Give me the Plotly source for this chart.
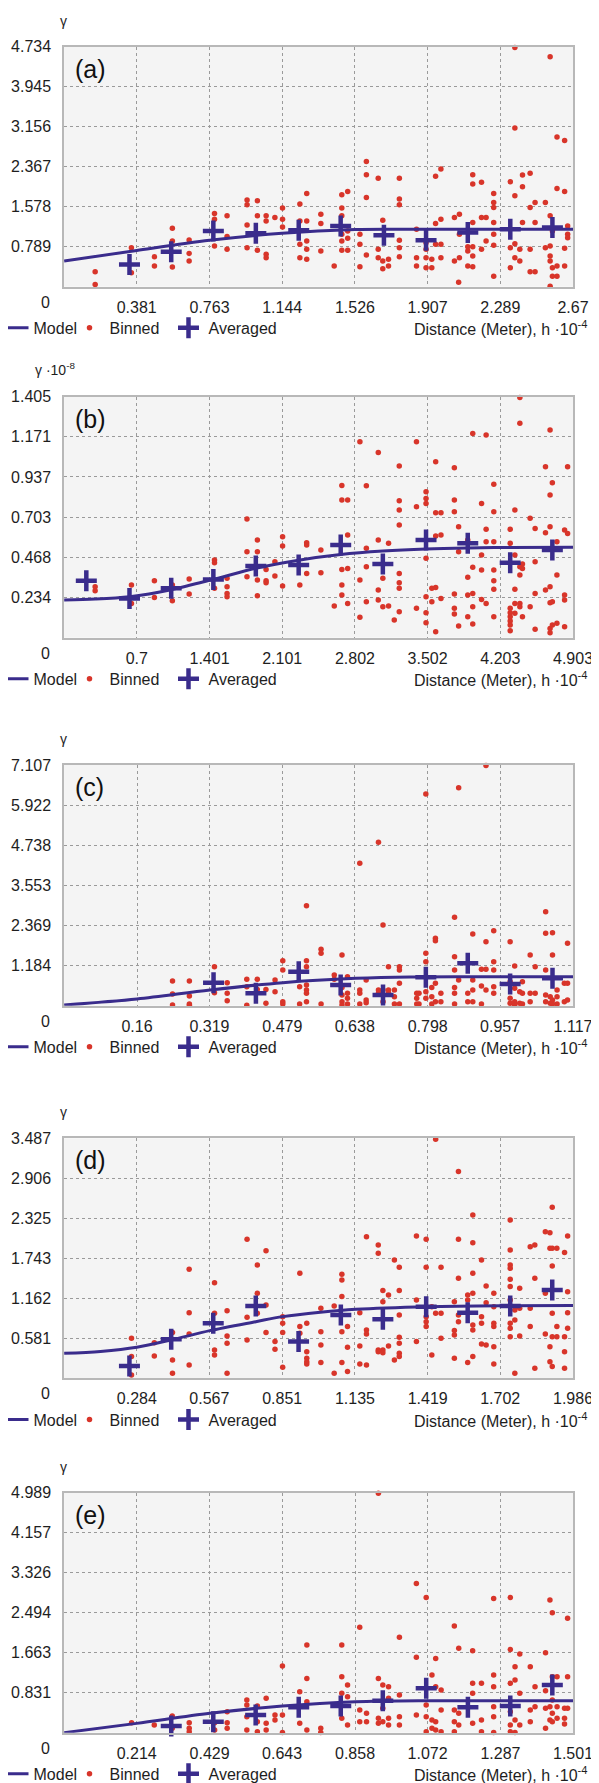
import plotly.graph_objects as go

# ------------------------------------------------------------------ data
# Panel (a)
a_xticks = [0.381, 0.763, 1.144, 1.526, 1.907, 2.289, 2.67]
a_yticks = [0.789, 1.578, 2.367, 3.156, 3.945, 4.734]
a_model_x = [0, 0.381, 0.763, 1.144, 1.526, 1.75, 2.2, 2.67]
a_model_y = [0.505, 0.716, 0.915, 1.054, 1.126, 1.132, 1.132, 1.132]
a_avg_x = [0.343, 0.562, 0.783, 1.006, 1.231, 1.451, 1.678, 1.899, 2.118, 2.341, 2.562]
a_avg_y = [0.439, 0.691, 1.100, 1.054, 1.113, 1.199, 1.014, 0.915, 1.067, 1.133, 1.166]
a_bin_cols = [0.163, 0.353, 0.474, 0.568, 0.656, 0.789, 0.855, 0.960, 1.014, 1.060, 1.106, 1.146,
              1.237, 1.273, 1.347, 1.417, 1.457, 1.488, 1.552, 1.586, 1.648, 1.672, 1.702, 1.759,
              1.849, 1.899, 1.929, 1.949, 1.977, 2.048, 2.070, 2.074, 2.118, 2.144, 2.190, 2.214,
              2.254, 2.341, 2.365, 2.391, 2.405, 2.445, 2.471, 2.525, 2.550, 2.562, 2.586, 2.626, 2.642]
a_bin_vals = [[0.294, 0.043], [0.770, 0.274], [0.591, 0.406], [1.153, 0.902, 0.387],
              [0.922, 0.657, 0.506], [1.444, 1.332, 0.803], [1.398, 0.988, 0.737],
              [1.708, 1.616, 1.219, 0.770], [1.695, 1.398, 0.717], [1.398, 1.298, 0.638, 0.572],
              [1.365], [1.550, 1.332, 1.180], [1.629, 1.298, 0.836, 0.572],
              [1.840, 1.298, 0.902, 0.737, 0.539], [1.431, 1.246, 0.704], [0.406],
              [1.814, 1.550, 1.398, 1.034, 0.902, 0.717], [1.880, 1.100, 0.955, 0.717],
              [1.034, 0.836, 0.393], [2.468, 2.210, 1.761, 0.624], [2.138, 0.737, 0.572],
              [1.312, 0.506, 0.354], [0.539, 0.406], [2.138, 1.728, 1.616, 0.915, 0.770, 0.591],
              [1.133, 0.572, 0.406], [0.869, 0.737, 0.572, 0.373], [0.539, 0.373],
              [2.177, 1.246, 0.836], [2.323, 1.332, 0.836, 0.572], [1.365, 0.506], [0.089],
              [1.431, 1.034, 0.572], [0.790, 0.704, 0.406], [2.210, 2.025, 1.265, 0.790, 0.605, 0.393],
              [2.058, 1.365, 0.737], [1.365, 0.902], [1.840, 1.662, 1.563, 1.265, 1.034, 0.816, 0.208],
              [2.072, 0.770, 0.373], [4.720, 3.129, 1.794, 0.849, 0.572], [0.737, 0.506],
              [2.204, 1.972, 1.265], [2.237, 1.563, 0.737, 0.294], [1.662, 1.265, 0.294],
              [1.662, 0.770], [4.536, 1.398, 0.803, 0.605, 0.506, 0.010], [1.100, 0.373, 0.208],
              [2.951, 1.939, 0.406, 0.208], [2.884, 1.880, 0.757, 0.406], [1.199, 1.034, 0.968]]

# Panel (b)  (values x 10^-8)
b_xticks = [0.7, 1.401, 2.101, 2.802, 3.502, 4.203, 4.903]
b_yticks = [0.234, 0.468, 0.703, 0.937, 1.171, 1.405]
b_model_x = [0, 0.300, 0.630, 1.032, 1.438, 1.847, 2.260, 2.665, 3.071, 3.487, 3.889, 4.298, 4.903]
b_model_y = [0.220, 0.225, 0.239, 0.280, 0.340, 0.405, 0.452, 0.485, 0.505, 0.517, 0.523, 0.526, 0.527]
b_avg_x = [0.214, 0.630, 1.032, 1.438, 1.847, 2.260, 2.665, 3.071, 3.487, 3.889, 4.298, 4.704]
b_avg_y = [0.332, 0.229, 0.288, 0.340, 0.418, 0.424, 0.540, 0.429, 0.569, 0.550, 0.437, 0.511]
b_bin_cols = [0.299, 0.649, 0.870, 1.043, 1.205, 1.449, 1.570, 1.762, 1.862, 1.946, 2.031, 2.105,
              2.271, 2.337, 2.474, 2.603, 2.676, 2.732, 2.850, 2.912, 3.027, 3.071, 3.126, 3.181,
              3.229, 3.395, 3.487, 3.543, 3.580, 3.631, 3.760, 3.801, 3.889, 3.937, 4.022, 4.066,
              4.140, 4.298, 4.343, 4.391, 4.416, 4.490, 4.538, 4.638, 4.682, 4.704, 4.748, 4.822, 4.851]
b_bin_vals = [[0.297, 0.274], [0.307, 0.200], [0.332, 0.235], [0.307, 0.216], [0.342, 0.255],
              [0.453, 0.437, 0.288], [0.346, 0.297, 0.258, 0.239], [0.692, 0.501, 0.356],
              [0.569, 0.501, 0.336, 0.245], [0.398, 0.332, 0.321], [0.443, 0.360],
              [0.589, 0.534, 0.301], [0.307], [0.554, 0.540, 0.375], [0.511, 0.379], [0.185],
              [0.888, 0.803, 0.398, 0.307, 0.249], [0.803, 0.599, 0.404, 0.200], [1.143, 0.336, 0.119],
              [0.886, 0.521, 0.414, 0.210], [1.080, 0.569, 0.278, 0.220], [0.346, 0.181],
              [0.550, 0.185], [0.103], [1.001, 0.799, 0.744, 0.657, 0.375, 0.321, 0.288, 0.152],
              [1.143, 0.764, 0.171], [0.851, 0.812, 0.783, 0.463, 0.239, 0.146, 0.087],
              [0.288, 0.210], [1.026, 0.729, 0.593, 0.293, 0.035], [0.729, 0.599, 0.229],
              [0.991, 0.803, 0.735, 0.255, 0.171, 0.138], [0.647, 0.501, 0.068],
              [0.569, 0.352, 0.249, 0.122], [1.191, 0.410, 0.258, 0.181, 0.080],
              [0.783, 0.482, 0.394, 0.223], [1.182, 0.632, 0.560, 0.200],
              [0.894, 0.735, 0.560, 0.394, 0.332, 0.282, 0.122],
              [0.632, 0.550, 0.171, 0.146, 0.122, 0.097, 0.074, 0.041],
              [0.744, 0.482, 0.282, 0.200, 0.142], [1.400, 1.250, 0.414, 0.365, 0.200, 0.181],
              [0.429, 0.404, 0.122], [0.696, 0.181], [0.637, 0.443, 0.258, 0.049],
              [0.997, 0.612, 0.278], [1.211, 0.832, 0.647, 0.297, 0.204, 0.054, 0.029],
              [0.904, 0.210, 0.074], [0.560, 0.365, 0.084], [0.628, 0.249, 0.220, 0.064],
              [0.997, 0.608]]

# Panel (c)
c_xticks = [0.16, 0.319, 0.479, 0.638, 0.798, 0.957, 1.117]
c_yticks = [1.184, 2.369, 3.553, 4.738, 5.922, 7.107]
c_model_x = [0, 0.160, 0.320, 0.480, 0.640, 0.760, 0.900, 1.117]
c_model_y = [0.02, 0.197, 0.463, 0.679, 0.807, 0.850, 0.856, 0.856]
c_avg_x = [0.328, 0.421, 0.515, 0.607, 0.700, 0.794, 0.886, 0.979, 1.072]
c_avg_y = [0.679, 0.364, 1.004, 0.610, 0.315, 0.837, 1.250, 0.640, 0.807]
c_bin_cols = [0.238, 0.275, 0.330, 0.358, 0.401, 0.424, 0.443, 0.463, 0.480, 0.517, 0.532, 0.564,
              0.593, 0.610, 0.622, 0.649, 0.663, 0.690, 0.700, 0.712, 0.725, 0.736, 0.774, 0.779,
              0.794, 0.807, 0.815, 0.827, 0.857, 0.866, 0.886, 0.897, 0.916, 0.926, 0.943, 0.979,
              0.989, 1.000, 1.006, 1.023, 1.034, 1.057, 1.067, 1.072, 1.082, 1.098, 1.105]
c_bin_vals = [[0.728, 0.345, 0.020], [0.728, 0.285, 0.049, 0.010], [1.152, 0.384],
              [0.679, 0.364, 0.148], [0.778, 0.561, 0.010], [0.778, 0.482], [0.482, 0.069],
              [0.758, 0.413], [1.329, 1.053, 0.118, 0.049], [0.561, 0.049],
              [2.953, 1.329, 1.152, 0.610, 0.463, 0.364, 0.118], [1.664, 1.545, 0.049],
              [0.906, 0.778], [1.496, 0.541, 0.315, 0.118, 0.020], [0.856, 0.364, 0.217, 0.049],
              [4.203, 0.463, 0.364, 0.049], [0.758, 0.167, 0.089], [4.823, 0.463, 0.364],
              [2.382, 0.463, 0.118], [1.152, 0.463, 0.364], [0.463, 0.266, 0.049],
              [1.152, 1.053, 0.660, 0.049], [0.364, 0.217, 0.049], [0.364, 0.049],
              [6.251, 1.545, 1.299, 0.413, 0.217], [0.541, 0.266, 0.049], [1.988, 1.919, 0.660, 0.118],
              [0.364, 0.118], [2.609, 1.447, 1.053, 0.541, 0.364, 0.049], [6.438, 0.758],
              [0.364, 0.118], [2.116, 0.758, 0.463, 0.118], [1.073, 0.581, 0.049],
              [7.090, 1.890, 1.073, 0.463], [2.215, 1.299, 1.053, 0.561, 0.364],
              [1.890, 0.709, 0.217, 0.069], [1.171, 0.512, 0.118, 0.020], [0.413, 0.069],
              [0.709, 0.364, 0.049], [1.496, 0.364, 0.118], [1.152, 0.364],
              [2.776, 2.136, 1.053, 0.315, 0.118], [0.266, 0.069], [2.156, 1.496, 0.167, 0.049],
              [0.463, 0.266, 0.049], [0.660, 0.118], [1.841, 0.660, 0.167]]

# Panel (d)
d_xticks = [0.284, 0.567, 0.851, 1.135, 1.419, 1.702, 1.986]
d_yticks = [0.581, 1.162, 1.743, 2.325, 2.906, 3.487]
d_model_x = [0, 0.142, 0.284, 0.418, 0.569, 0.748, 0.853, 1.000, 1.138, 1.420, 1.700, 1.986]
d_model_y = [0.363, 0.390, 0.450, 0.557, 0.693, 0.823, 0.896, 0.960, 1.003, 1.041, 1.054, 1.056]
d_avg_x = [0.255, 0.418, 0.582, 0.748, 0.915, 1.080, 1.244, 1.413, 1.575, 1.741, 1.905]
d_avg_y = [0.179, 0.567, 0.799, 1.051, 0.533, 0.920, 0.857, 1.041, 0.954, 1.051, 1.283]
d_bin_cols = [0.263, 0.352, 0.423, 0.488, 0.587, 0.636, 0.714, 0.754, 0.788, 0.823, 0.853, 0.920,
              0.947, 1.002, 1.054, 1.084, 1.106, 1.154, 1.180, 1.226, 1.244, 1.266, 1.289, 1.308,
              1.375, 1.413, 1.435, 1.450, 1.471, 1.523, 1.539, 1.575, 1.595, 1.629, 1.647, 1.677,
              1.741, 1.759, 1.778, 1.819, 1.837, 1.878, 1.896, 1.905, 1.923, 1.953, 1.965]
d_bin_vals = [[0.581, 0.315, 0.048], [0.518, 0.324], [0.664, 0.266, 0.073],
              [1.584, 0.954, 0.644, 0.194], [1.390, 0.944, 0.412, 0.339], [0.983, 0.615, 0.509, 0.073],
              [2.020, 0.886, 0.557], [1.647, 1.235, 0.944], [1.855, 1.065, 0.664], [0.533, 0.421],
              [0.896, 0.799, 0.664, 0.160], [1.526, 0.751, 0.654], [0.799, 0.387, 0.291, 0.242, 0.208],
              [1.017, 0.678, 0.484, 0.228], [1.051, 0.073], [1.511, 1.429, 1.187, 0.678, 0.228],
              [0.751, 0.450, 0.097], [0.954, 0.470, 0.208], [2.058, 0.702, 0.644, 0.194],
              [1.937, 1.816, 0.412, 0.387], [1.274, 1.114, 0.412, 0.373], [1.211, 0.470],
              [1.719, 0.266], [1.613, 1.274, 0.920, 0.596, 0.509, 0.363, 0.315],
              [2.068, 1.138, 0.533], [2.020, 1.613, 0.896, 0.823, 0.751], [1.041, 0.339],
              [3.475, 0.944], [1.613, 0.944, 0.581], [1.114, 0.693, 0.630, 0.291],
              [3.003, 2.020, 1.453, 0.920, 0.823], [1.211, 1.138, 0.228],
              [2.373, 1.971, 1.526, 1.235, 0.775, 0.702, 0.315], [1.719, 0.896, 0.799, 0.499],
              [1.342, 1.099, 0.484], [1.235, 1.041, 0.799, 0.751, 0.460, 0.208],
              [2.300, 1.865, 1.647, 1.598, 1.438, 1.332, 1.138, 0.799, 0.726, 0.605],
              [0.993, 0.848, 0.073], [1.308, 1.017, 0.615], [1.913, 1.017, 0.751],
              [1.937, 1.453, 0.145], [2.131, 1.235, 0.644], [2.116, 1.889, 0.460, 0.242],
              [2.484, 1.889, 1.632, 0.944, 0.605, 0.170], [1.889, 0.751, 0.605],
              [1.826, 0.605, 0.387, 0.145], [2.068, 1.259, 0.954, 0.726]]

# Panel (e)
e_xticks = [0.214, 0.429, 0.643, 0.858, 1.072, 1.287, 1.501]
e_yticks = [0.831, 1.663, 2.494, 3.326, 4.157, 4.989]
e_model_x = [0, 0.214, 0.430, 0.644, 0.860, 1.073, 1.300, 1.501]
e_model_y = [0.0, 0.194, 0.402, 0.554, 0.644, 0.665, 0.665, 0.665]
e_avg_x = [0.316, 0.440, 0.565, 0.692, 0.816, 0.940, 1.068, 1.191, 1.316, 1.440]
e_avg_y = [0.139, 0.229, 0.367, 0.527, 0.554, 0.665, 0.922, 0.527, 0.554, 0.991]
e_bin_cols = [0.199, 0.266, 0.319, 0.369, 0.444, 0.481, 0.539, 0.570, 0.596, 0.622, 0.644, 0.695,
              0.716, 0.757, 0.819, 0.836, 0.872, 0.892, 0.927, 0.940, 0.957, 0.989, 1.039, 1.068,
              1.085, 1.096, 1.112, 1.151, 1.164, 1.205, 1.231, 1.267, 1.316, 1.330, 1.344, 1.375,
              1.389, 1.420, 1.433, 1.440, 1.454, 1.476, 1.485]
e_bin_vals = [[0.208], [0.159], [0.346, 0.090], [0.208, 0.090, 0.021], [0.208, 0.055],
              [0.437, 0.208, 0.090], [0.679, 0.575, 0.333, 0.055], [0.554, 0.229, 0.021],
              [0.714, 0.194, 0.055], [0.367, 0.263], [1.386, 0.367, 0.005], [0.852, 0.194],
              [1.822, 1.129, 0.644, 0.055], [0.090, 0.005], [1.822, 1.164, 0.818, 0.298],
              [0.991, 0.748, 0.159], [2.190, 0.471, 0.229], [0.402, 0.229],
              [4.975, 1.129, 0.298, 0.194], [0.991, 0.506, 0.229], [0.956, 0.714, 0.298, 0.159],
              [1.982, 0.783, 0.333, 0.159], [3.104, 1.566, 0.367], [2.813, 0.575, 0.333, 0.021],
              [1.199, 0.263, 0.090], [1.545, 0.956, 0.229, 0.055], [0.887, 0.471, 0.021],
              [2.217, 0.471, 0.229, 0.021], [1.753, 0.402, 0.159], [1.705, 1.026, 0.818, 0.194],
              [1.026, 0.263, 0.021], [2.792, 1.199, 0.956, 0.540, 0.333, 0.005],
              [2.813, 1.732, 1.026, 0.437, 0.159, 0.021], [1.372, 1.095, 0.263, 0.005],
              [1.635, 0.818, 0.159], [1.372, 0.471, 0.229], [0.956, 0.540],
              [1.663, 0.873, 0.506, 0.090], [2.758, 0.540, 0.263], [2.494, 1.164, 0.679, 0.402, 0.229],
              [1.164, 0.540, 0.298], [0.506, 0.298, 0.180], [2.377, 1.164, 0.506]]

panel_labels = ["(a)", "(b)", "(c)", "(d)", "(e)"]
y_titles = ["γ", "γ ·10<sup>-8</sup>", "γ", "γ", "γ"]
x_title = "Distance (Meter), h ·10<sup>-4</sup>"

# ------------------------------------------------------------------ layout helpers
# The page body adds an 8 px margin, so the figure is drawn 8 px in from the
# top-left corner; positions below are given in page pixels and converted.
PAGE_W, PAGE_H, OFF = 599, 1783, 8
W, H = PAGE_W - OFF, PAGE_H - OFF
def fx(p):
    return (p - OFF) / W
def fy(p):
    return 1 - (p - OFF) / H

PLOT_L, PLOT_R = 64.1, 573.0
tops = [46.7, 396.7, 765.0, 1138.3, 1492.7]
bottoms = [286.7, 637.7, 1005.7, 1378.3, 1732.7]

BLUE = "#3a2c8c"
RED = "#d8352a"
FONT = "Liberation Sans, Arial, sans-serif"
TXT = "#1e1e1e"

panels = [
    (a_xticks, a_yticks, a_model_x, a_model_y, a_avg_x, a_avg_y, a_bin_cols, a_bin_vals),
    (b_xticks, b_yticks, b_model_x, b_model_y, b_avg_x, b_avg_y, b_bin_cols, b_bin_vals),
    (c_xticks, c_yticks, c_model_x, c_model_y, c_avg_x, c_avg_y, c_bin_cols, c_bin_vals),
    (d_xticks, d_yticks, d_model_x, d_model_y, d_avg_x, d_avg_y, d_bin_cols, d_bin_vals),
    (e_xticks, e_yticks, e_model_x, e_model_y, e_avg_x, e_avg_y, e_bin_cols, e_bin_vals),
]

fig = go.Figure()
annotations = []
layout = {}

for i, (xt, yt, mx, my, ax_, ay_, bcols, bvals) in enumerate(panels):
    n = i + 1
    sfx = "" if n == 1 else str(n)
    xa, ya = "x" + sfx, "y" + sfx
    leg = "legend" + sfx
    bx = [c for c, vs in zip(bcols, bvals) for _ in vs]
    by = [v for vs in bvals for v in vs]

    fig.add_trace(go.Scatter(x=bx, y=by, mode="markers", name="Binned", xaxis=xa, yaxis=ya,
                             legend=leg, legendrank=2, legendwidth=54, cliponaxis=False,
                             marker=dict(color=RED, size=5.5)))
    fig.add_trace(go.Scatter(x=mx, y=my, mode="lines", name="Model", xaxis=xa, yaxis=ya,
                             legend=leg, legendrank=1, legendwidth=31,
                             line=dict(color=BLUE, width=3, shape="spline", smoothing=0.9)))
    fig.add_trace(go.Scatter(x=ax_, y=ay_, mode="markers", name="Averaged", xaxis=xa, yaxis=ya,
                             legend=leg, legendrank=3, cliponaxis=False,
                             marker=dict(symbol="cross-thin", size=15, color=BLUE,
                                         line=dict(color=BLUE, width=4.5))))

    common = dict(showgrid=True, gridcolor="#9a9a9a", griddash="dot", gridwidth=1,
                  showline=True, mirror=True, linecolor="#b8b8b8", linewidth=1.5,
                  zeroline=False, ticks="outside", tickcolor="rgba(0,0,0,0)",
                  tickfont=dict(family=FONT, size=16, color=TXT))
    layout["xaxis" + sfx] = dict(common, domain=[fx(PLOT_L), fx(PLOT_R)], anchor=ya,
                                 range=[0, xt[-1]], tickvals=xt, ticktext=[str(v) for v in xt],
                                 ticklen=5)
    layout["yaxis" + sfx] = dict(common, domain=[fy(bottoms[i]), fy(tops[i])], anchor=xa,
                                 range=[0, yt[-1]], tickvals=yt, ticktext=[str(v) for v in yt],
                                 ticklen=8)
    layout[leg] = dict(orientation="h", x=fx(-6.5), xanchor="left", y=fy(bottoms[i] + 41.2),
                       yanchor="middle", font=dict(family=FONT, size=16, color=TXT),
                       bgcolor="rgba(0,0,0,0)", itemwidth=30, traceorder="normal")

    # origin label, y title, panel label, x title
    annotations.append(dict(text="0", x=fx(46), y=fy(bottoms[i] + 15.5), xref="paper", yref="paper",
                            xanchor="center", yanchor="middle", showarrow=False,
                            font=dict(family=FONT, size=16, color=TXT)))
    if n == 2:
        annotations.append(dict(text=y_titles[i], x=fx(33), y=fy(tops[i] - 28), xref="paper",
                                yref="paper", xanchor="left", yanchor="middle", showarrow=False,
                                font=dict(family=FONT, size=14, color=TXT)))
    else:
        annotations.append(dict(text=y_titles[i], x=fx(63.5), y=fy(tops[i] - 26), xref="paper",
                                yref="paper", xanchor="center", yanchor="middle", showarrow=False,
                                font=dict(family=FONT, size=14, color=TXT)))
    annotations.append(dict(text=panel_labels[i], x=fx(73), y=fy(tops[i] + 22), xref="paper",
                            yref="paper", xanchor="left", yanchor="middle", showarrow=False,
                            font=dict(family=FONT, size=25, color="#111")))
    annotations.append(dict(text=x_title, x=fx(590), y=fy(bottoms[i] + 41.2), xref="paper",
                            yref="paper", xanchor="right", yanchor="middle", showarrow=False,
                            font=dict(family=FONT, size=16, color=TXT)))

fig.update_layout(width=W, height=H, margin=dict(l=0, r=0, t=0, b=0, autoexpand=False),
                  paper_bgcolor="white", plot_bgcolor="#f4f4f4",
                  annotations=annotations, **layout)

fig.write_html("out.html")
